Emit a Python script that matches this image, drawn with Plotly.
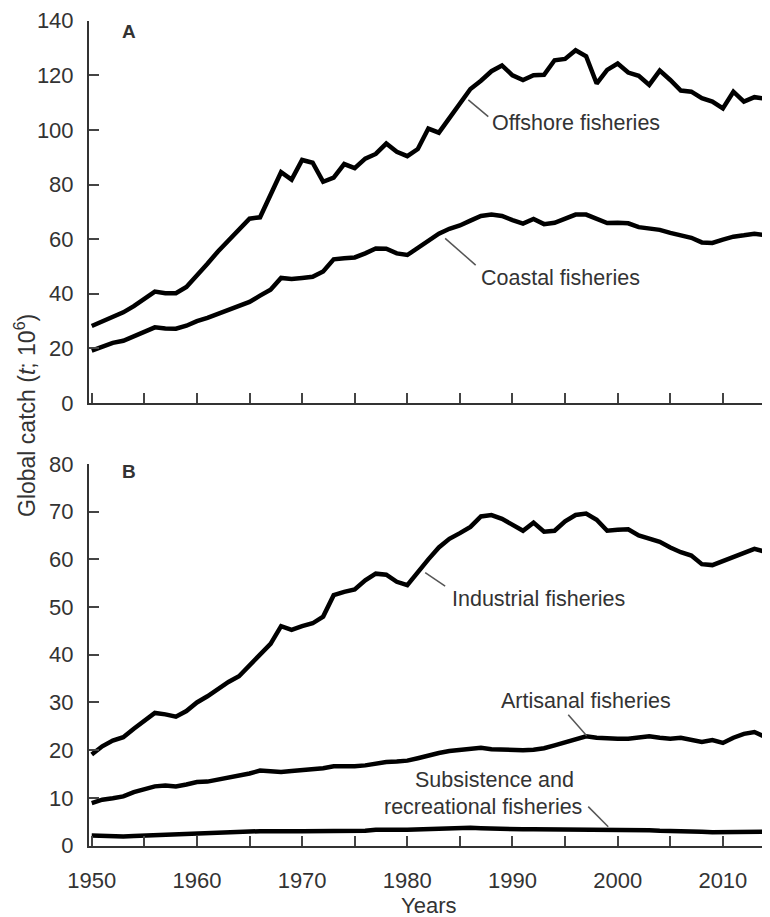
import plotly.graph_objects as go

years = list(range(1950, 2015))

offshore = [28.2, 30.0, 31.8, 33.2, 35.5, 38.0, 40.8, 40.2, 40.2, 42.5,
            46.5, 51.0, 55.5, 59.5, 63.5, 67.5, 68.0, 76.0, 84.5, 81.8,
            89.0, 88.0, 81.0, 82.5, 87.5, 86.0, 89.5, 91.2, 95.0, 92.0,
            90.4, 93.0, 100.5, 99.0, 104.5, 110.0, 115.0, 118.0, 121.5, 123.6,
            120.0, 118.3, 120.0, 120.2, 125.5, 126.0, 129.2, 127.0, 117.0, 122.0,
            124.3, 121.0, 119.8, 116.5, 121.7, 118.3, 114.4, 114.0, 111.6, 110.4,
            107.9, 114.0, 110.4, 112.0, 111.5]

coastal = [19.2, 20.8, 22.0, 22.8, 24.5, 26.3, 27.7, 27.3, 27.2, 28.3,
           30.0, 31.2, 32.6, 34.0, 35.5, 37.0, 39.3, 41.5, 45.8, 45.4,
           45.8, 46.2, 48.2, 52.6, 53.0, 53.3, 54.8, 56.6, 56.5, 54.8,
           54.2, 56.8, 59.8, 62.0, 63.8, 65.0, 66.8, 68.5, 69.0, 68.5,
           67.0, 65.7, 67.4, 65.5, 66.0, 67.5, 69.0, 69.0, 67.3, 65.9,
           66.0, 65.8, 64.4, 63.9, 63.4, 62.3, 61.2, 60.5, 58.8, 58.6,
           59.8, 60.9, 61.4, 62.0, 61.5]

industrial = [19.1, 20.8, 22.0, 22.7, 24.5, 26.3, 27.8, 27.5, 27.0, 28.2,
              30.0, 31.3, 32.8, 34.3, 35.5, 37.8, 40.0, 42.3, 46.0, 45.2,
              46.0, 46.6, 48.0, 52.5, 53.2, 53.7, 55.6, 57.0, 56.8, 55.3,
              54.6, 57.4, 60.0, 62.5, 64.3, 65.5, 66.8, 69.0, 69.3, 68.5,
              67.2, 66.0, 67.7, 65.8, 66.0, 68.0, 69.3, 69.6, 68.3, 66.0,
              66.2, 66.3, 65.0, 64.4, 63.7, 62.5, 61.5, 60.8, 59.0, 58.8,
              59.6, 60.6, 61.3, 62.2, 61.6]

artisanal = [8.9, 9.6, 9.9, 10.3, 11.2, 11.8, 12.4, 12.6, 12.4, 12.8,
             13.3, 13.4, 13.8, 14.2, 14.6, 15.1, 15.7, 15.6, 15.4, 15.6,
             15.8, 15.8, 16.2, 16.6, 16.5, 16.6, 16.8, 17.2, 17.5, 17.6,
             17.8, 18.3, 18.9, 19.4, 19.8, 20.0, 20.3, 20.5, 20.2, 20.1,
             20.0, 20.0, 20.1, 20.4, 21.0, 21.7, 22.4, 22.9, 22.6, 22.4,
             22.4, 22.4, 22.6, 22.9, 22.6, 22.4, 22.6, 22.1, 21.7, 22.1,
             21.5, 22.6, 23.4, 23.8, 22.8]

subsistence = [2.1, 2.0, 2.0, 1.9, 2.0, 2.1, 2.2, 2.2, 2.3, 2.4,
               2.5, 2.6, 2.7, 2.8, 2.9, 2.9, 3.0, 3.0, 3.1, 3.0,
               3.0, 3.0, 3.1, 3.1, 3.0, 3.0, 3.1, 3.3, 3.4, 3.3,
               3.3, 3.4, 3.5, 3.6, 3.6, 3.6, 3.7, 3.6, 3.5, 3.5,
               3.4, 3.4, 3.4, 3.4, 3.4, 3.4, 3.4, 3.4, 3.4, 3.3,
               3.3, 3.3, 3.2, 3.2, 3.1, 3.1, 3.0, 3.0, 2.9, 2.8,
               2.8, 2.9, 2.9, 2.9, 2.9]

top_yticks = [0, 20, 40, 60, 80, 100, 120, 140]
bottom_yticks = [0, 10, 20, 30, 40, 50, 60, 70, 80]
x_minor_ticks = list(range(1950, 2015, 5))
x_label_ticks = [1950, 1960, 1970, 1980, 1990, 2000, 2010]

TXT = "#333333"
FONT = "Liberation Sans, Arial, sans-serif"
LINE = dict(color="black", width=4.5)

# figure sits at an 8px page offset; sizes chosen so it fills the 770x917 window
W, H, OFF = 762, 909, 8
L = 81
PW = W - L


def py(page_y):
    return 1 - (page_y - OFF) / H


def px(page_x):
    return (page_x - OFF - L) / PW


fig = go.Figure()
fig.add_trace(go.Scatter(x=years, y=offshore, mode="lines", line=LINE, xaxis="x", yaxis="y"))
fig.add_trace(go.Scatter(x=years, y=coastal, mode="lines", line=LINE, xaxis="x", yaxis="y"))
fig.add_trace(go.Scatter(x=years, y=industrial, mode="lines", line=LINE, xaxis="x2", yaxis="y2"))
fig.add_trace(go.Scatter(x=years, y=artisanal, mode="lines", line=LINE, xaxis="x2", yaxis="y2"))
fig.add_trace(go.Scatter(x=years, y=subsistence, mode="lines", line=LINE, xaxis="x2", yaxis="y2"))

xrange = [1949.74, 2014.48]
axis_common = dict(showline=True, linecolor=TXT, linewidth=2, showgrid=False, zeroline=False,
                   ticks="inside", ticklen=10, tickwidth=2, tickcolor="#444444",
                   tickfont=dict(family=FONT, size=22, color=TXT), automargin=False)

fig.update_layout(
    width=W, height=H,
    margin=dict(l=L, r=0, t=0, b=0),
    paper_bgcolor="white", plot_bgcolor="white",
    showlegend=False,
    xaxis=dict(domain=[0, 1], anchor="y", range=xrange, tickvals=x_minor_ticks,
               showticklabels=False, **axis_common),
    yaxis=dict(domain=[py(403), py(20.7)], anchor="x", range=[0, 140], tickvals=top_yticks,
               ticklabelstandoff=9, **axis_common),
    xaxis2=dict(domain=[0, 1], anchor="y2", range=xrange, tickvals=x_label_ticks,
                ticklabelstandoff=14,
                minor=dict(tickvals=x_minor_ticks, ticks="inside", ticklen=10, tickwidth=2,
                           tickcolor="#444444", showgrid=False),
                **axis_common),
    yaxis2=dict(domain=[py(845.5), py(464)], anchor="x2", range=[0, 80], tickvals=bottom_yticks,
                ticklabelstandoff=9, **axis_common),
)

ann_font = dict(family=FONT, size=21.5, color=TXT)
anns = [
    dict(x=1996.0, y=102.5, xref="x", yref="y", text="Offshore fisheries"),
    dict(x=1994.6, y=45.7, xref="x", yref="y", text="Coastal fisheries"),
    dict(x=1992.45, y=51.7, xref="x2", yref="y2", text="Industrial fisheries"),
    dict(x=1997.0, y=30.2, xref="x2", yref="y2", text="Artisanal fisheries"),
    dict(x=1988.3, y=13.8, xref="x2", yref="y2", text="Subsistence and"),
    dict(x=1987.15, y=8.15, xref="x2", yref="y2", text="recreational fisheries"),
]
for a in anns:
    fig.add_annotation(showarrow=False, font=ann_font, xanchor="center", yanchor="middle", **a)

fig.add_annotation(x=1953.5, y=135.9, xref="x", yref="y", text="<b>A</b>", showarrow=False,
                   font=dict(family=FONT, size=19, color=TXT), xanchor="center", yanchor="middle")
fig.add_annotation(x=1953.5, y=78.4, xref="x2", yref="y2", text="<b>B</b>", showarrow=False,
                   font=dict(family=FONT, size=19, color=TXT), xanchor="center", yanchor="middle")

fig.add_annotation(x=px(25), y=py(416), xref="paper", yref="paper",
                   text="Global catch (<i>t</i>; 10<sup>6</sup>)", textangle=-90, showarrow=False,
                   font=dict(family=FONT, size=23, color=TXT), xanchor="center", yanchor="middle")
fig.add_annotation(x=px(428), y=py(905), xref="paper", yref="paper",
                   text="Years", showarrow=False,
                   font=dict(family=FONT, size=22, color=TXT), xanchor="center", yanchor="middle")

leaders = [
    ("x", "y", 1985.8, 111.0, 1987.7, 104.9),
    ("x", "y", 1983.6, 60.3, 1986.5, 50.5),
    ("x2", "y2", 1981.7, 57.2, 1983.6, 54.4),
    ("x2", "y2", 1995.3, 27.4, 1997.05, 23.0),
    ("x2", "y2", 1997.2, 8.15, 1999.1, 3.95),
]
for xr, yr, x0, y0, x1, y1 in leaders:
    fig.add_shape(type="line", xref=xr, yref=yr, x0=x0, y0=y0, x1=x1, y1=y1,
                  line=dict(color="#555555", width=1.5))

fig.write_html("out.html")
